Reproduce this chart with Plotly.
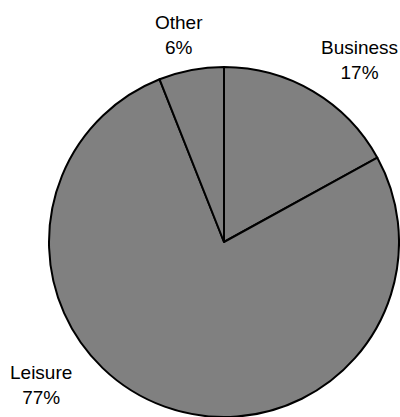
import plotly.graph_objects as go

labels = ["Business", "Leisure", "Other"]
values = [17, 77, 6]

W, H = 400, 417

# label centres in pixels (x, y from top)
label_pos = {"Business": (359, 60), "Leisure": (41, 385), "Other": (179, 35)}

fig = go.Figure()
fig.add_trace(go.Pie(
    labels=labels, values=values, sort=False, direction="clockwise", rotation=0,
    marker=dict(colors=["#808080"] * 3, line=dict(color="black", width=2)),
    textinfo="none", hoverinfo="label+percent", showlegend=False,
    domain=dict(x=[49 / W, 399 / W], y=[0, 1 - 67 / H]),
))

total = sum(values)
for lab, v in zip(labels, values):
    px_, py_ = label_pos[lab]
    fig.add_annotation(
        x=px_ / W, y=1 - py_ / H, xref="paper", yref="paper",
        text=f"{lab}<br>{round(v * 100 / total)}%", showarrow=False,
        xanchor="center", yanchor="middle",
        font=dict(family="Liberation Sans, Arial", size=19, color="black"),
    )

fig.update_layout(
    width=W, height=H, margin=dict(l=0, r=0, t=0, b=0),
    paper_bgcolor="white", plot_bgcolor="white",
)
# drop the default page margin so the figure fills the window
fig.write_html("out.html", config={"displayModeBar": False},
               post_script="document.body.style.margin='0';document.body.style.overflow='hidden';")
